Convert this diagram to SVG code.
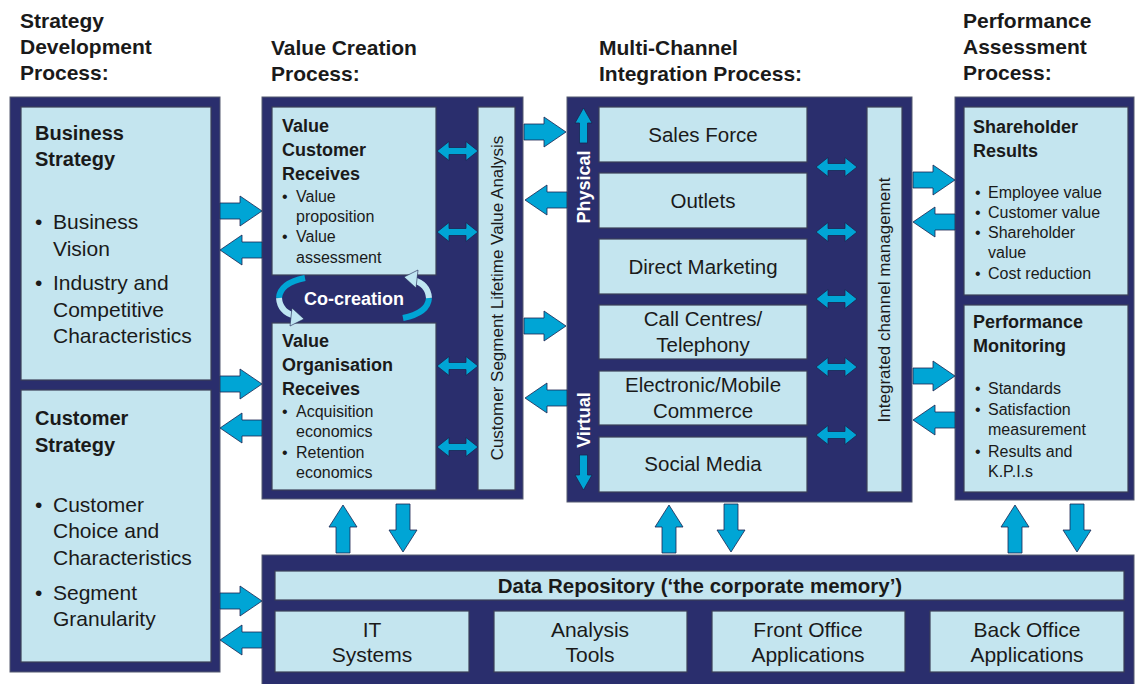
<svg xmlns="http://www.w3.org/2000/svg" width="1135" height="684" viewBox="0 0 1135 684">
<style>
.outer{fill:#2a2e6d;stroke:#555a70;stroke-width:1}
.inner{fill:#c4e5ef;stroke:#3b3f58;stroke-width:1.2}
.t{font-family:"Liberation Sans",Arial,sans-serif;fill:#1a1a1a}
.title{font-size:21px;font-weight:bold}
.h20{font-size:20px;font-weight:bold}
.b21{font-size:21px}
.h18{font-size:18px;font-weight:bold}
.b16{font-size:16px}
.c20{font-size:20.5px;text-anchor:middle}
.c21{font-size:21px;text-anchor:middle}
.rot{font-size:17px;text-anchor:middle}
.wh{font-family:"Liberation Sans",Arial,sans-serif;fill:#ffffff;font-weight:bold;text-anchor:middle}
.arr{fill:#00a5d5;stroke:#1c2450;stroke-width:0.8}
.arcC{fill:none;stroke:#00a5d5;stroke-width:6}
.arcL{fill:none;stroke:#bfe6f2;stroke-width:6}
</style>
<defs>
<path id="ar" d="M0,-8 H20 V-15 L42,0 L20,15 V8 H0 Z"/>
<path id="arU" d="M0,0 L14,22 H7 V48 H-7 V22 H-14 Z"/>
<path id="da" d="M0,0 L12,-9.5 V-3.5 H29 V-9.5 L41,0 L29,9.5 V3.5 H12 V9.5 Z"/>
<path id="su" d="M0,0 L8.5,15 H4 V35 H-4 V15 H-8.5 Z"/>
</defs>
<rect width="1135" height="684" fill="#ffffff"/>

<g id="titles" class="t title">
<text x="20" y="28">Strategy</text>
<text x="20" y="54">Development</text>
<text x="20" y="80">Process:</text>
<text x="271" y="55">Value Creation</text>
<text x="271" y="81">Process:</text>
<text x="599" y="55">Multi-Channel</text>
<text x="599" y="81">Integration Process:</text>
<text x="963" y="28">Performance</text>
<text x="963" y="54">Assessment</text>
<text x="963" y="80">Process:</text>
</g>

<g id="strategy-panel">
<rect class="outer" x="10" y="97" width="210" height="575"/>
</g>
<g id="business-strategy">
<rect class="inner" x="21" y="107" width="190" height="273"/>
<text class="t h20" x="35" y="140">Business</text>
<text class="t h20" x="35" y="166">Strategy</text>
<text class="t b21" x="35" y="229">•</text><text class="t b21" x="53" y="229">Business</text>
<text class="t b21" x="53" y="256">Vision</text>
<text class="t b21" x="35" y="290">•</text><text class="t b21" x="53" y="290">Industry and</text>
<text class="t b21" x="53" y="317">Competitive</text>
<text class="t b21" x="53" y="343">Characteristics</text>
</g>
<g id="customer-strategy">
<rect class="inner" x="21" y="390" width="190" height="272"/>
<text class="t h20" x="35" y="425">Customer</text>
<text class="t h20" x="35" y="452">Strategy</text>
<text class="t b21" x="35" y="512">•</text><text class="t b21" x="53" y="512">Customer</text>
<text class="t b21" x="53" y="538">Choice and</text>
<text class="t b21" x="53" y="565">Characteristics</text>
<text class="t b21" x="35" y="600">•</text><text class="t b21" x="53" y="600">Segment</text>
<text class="t b21" x="53" y="626">Granularity</text>
</g>

<g id="value-panel">
<rect class="outer" x="262" y="97" width="261" height="402"/>
</g>
<g id="value-customer">
<rect class="inner" x="272" y="107" width="164" height="168"/>
<text class="t h18" x="282" y="132">Value</text>
<text class="t h18" x="282" y="156">Customer</text>
<text class="t h18" x="282" y="180">Receives</text>
<text class="t b16" x="282" y="202">•</text><text class="t b16" x="296" y="202">Value</text>
<text class="t b16" x="296" y="222">proposition</text>
<text class="t b16" x="282" y="242">•</text><text class="t b16" x="296" y="242">Value</text>
<text class="t b16" x="296" y="263">assessment</text>
</g>
<g id="value-organisation">
<rect class="inner" x="272" y="323" width="164" height="167"/>
<text class="t h18" x="282" y="347">Value</text>
<text class="t h18" x="282" y="371">Organisation</text>
<text class="t h18" x="282" y="395">Receives</text>
<text class="t b16" x="282" y="417">•</text><text class="t b16" x="296" y="417">Acquisition</text>
<text class="t b16" x="296" y="437">economics</text>
<text class="t b16" x="282" y="458">•</text><text class="t b16" x="296" y="458">Retention</text>
<text class="t b16" x="296" y="478">economics</text>
</g>
<g id="cslva">
<rect class="inner" x="478" y="107" width="37" height="383"/>
<text class="t rot" transform="translate(503,298) rotate(-90)">Customer Segment Lifetime Value Analysis</text>
</g>
<g id="co-creation">
<path class="arcC" d="M305,278 Q280,283 279,298"/>
<path class="arcL" d="M279,298 Q280,312 295,316"/>
<polygon points="304,319 292,308 290,326" fill="#bfe6f2" stroke="#1c2450" stroke-width="0.6"/>
<path class="arcC" d="M403,318 Q428,313 429,298"/>
<path class="arcL" d="M429,298 Q428,284 413,280"/>
<polygon points="404,277 416,288 418,270" fill="#bfe6f2" stroke="#1c2450" stroke-width="0.6"/>
<text class="wh" x="354" y="305" font-size="18">Co-creation</text>
</g>

<g id="multichannel-panel">
<rect class="outer" x="567" y="97" width="345" height="405"/>
<text class="wh" font-size="18" transform="translate(590,187) rotate(-90)">Physical</text>
<text class="wh" font-size="18" transform="translate(590,420) rotate(-90)">Virtual</text>
<use href="#su" class="arr" transform="translate(583.5,108)"/>
<use href="#su" class="arr" transform="translate(583.5,490) rotate(180)"/>
</g>
<g id="sales-force"><rect class="inner" x="599" y="107" width="208" height="55"/><text class="t c20" x="703" y="142">Sales Force</text></g>
<g id="outlets"><rect class="inner" x="599" y="173" width="208" height="55"/><text class="t c20" x="703" y="208">Outlets</text></g>
<g id="direct-marketing"><rect class="inner" x="599" y="239" width="208" height="55"/><text class="t c20" x="703" y="274">Direct Marketing</text></g>
<g id="call-centres"><rect class="inner" x="599" y="305" width="208" height="54"/><text class="t c20" x="703" y="326">Call Centres/</text><text class="t c20" x="703" y="352">Telephony</text></g>
<g id="electronic"><rect class="inner" x="599" y="371" width="208" height="54"/><text class="t c20" x="703" y="392">Electronic/Mobile</text><text class="t c20" x="703" y="418">Commerce</text></g>
<g id="social-media"><rect class="inner" x="599" y="437" width="208" height="55"/><text class="t c20" x="703" y="471">Social Media</text></g>
<g id="icm">
<rect class="inner" x="867" y="107" width="35" height="385"/>
<text class="t rot" transform="translate(890,300) rotate(-90)">Integrated channel management</text>
</g>

<g id="performance-panel">
<rect class="outer" x="955" y="97" width="179" height="403"/>
</g>
<g id="shareholder-results">
<rect class="inner" x="964" y="107" width="164" height="188"/>
<text class="t h18" x="973" y="133">Shareholder</text>
<text class="t h18" x="973" y="157">Results</text>
<text class="t b16" x="975" y="198">•</text><text class="t b16" x="988" y="198">Employee value</text>
<text class="t b16" x="975" y="218">•</text><text class="t b16" x="988" y="218">Customer value</text>
<text class="t b16" x="975" y="238">•</text><text class="t b16" x="988" y="238">Shareholder</text>
<text class="t b16" x="988" y="258">value</text>
<text class="t b16" x="975" y="279">•</text><text class="t b16" x="988" y="279">Cost reduction</text>
</g>
<g id="performance-monitoring">
<rect class="inner" x="964" y="305" width="164" height="187"/>
<text class="t h18" x="973" y="328">Performance</text>
<text class="t h18" x="973" y="352">Monitoring</text>
<text class="t b16" x="975" y="394">•</text><text class="t b16" x="988" y="394">Standards</text>
<text class="t b16" x="975" y="415">•</text><text class="t b16" x="988" y="415">Satisfaction</text>
<text class="t b16" x="988" y="435">measurement</text>
<text class="t b16" x="975" y="457">•</text><text class="t b16" x="988" y="457">Results and</text>
<text class="t b16" x="988" y="477">K.P.I.s</text>
</g>

<g id="data-panel">
<rect class="outer" x="262" y="555" width="872" height="130"/>
</g>
<g id="data-repository"><rect class="inner" x="275" y="571" width="849" height="29"/><text class="t" x="700" y="593" text-anchor="middle" font-size="20.5" font-weight="bold">Data Repository (‘the corporate memory’)</text></g>
<g id="it-systems"><rect class="inner" x="275" y="611" width="194" height="61"/><text class="t c21" x="372" y="637">IT</text><text class="t c21" x="372" y="662">Systems</text></g>
<g id="analysis-tools"><rect class="inner" x="494" y="611" width="193" height="61"/><text class="t c21" x="590" y="637">Analysis</text><text class="t c21" x="590" y="662">Tools</text></g>
<g id="front-office"><rect class="inner" x="712" y="611" width="193" height="61"/><text class="t c21" x="808" y="637">Front Office</text><text class="t c21" x="808" y="662">Applications</text></g>
<g id="back-office"><rect class="inner" x="930" y="611" width="194" height="61"/><text class="t c21" x="1027" y="637">Back Office</text><text class="t c21" x="1027" y="662">Applications</text></g>

<g id="connectors" class="arr">
<use href="#ar" transform="translate(220,211)"/>
<use href="#ar" transform="translate(262,250) rotate(180)"/>
<use href="#ar" transform="translate(220,384)"/>
<use href="#ar" transform="translate(262,428) rotate(180)"/>
<use href="#ar" transform="translate(220,601)"/>
<use href="#ar" transform="translate(262,640) rotate(180)"/>
<use href="#ar" transform="translate(524,132)"/>
<use href="#ar" transform="translate(567,200) rotate(180)"/>
<use href="#ar" transform="translate(524,326)"/>
<use href="#ar" transform="translate(567,398) rotate(180)"/>
<use href="#ar" transform="translate(913,180)"/>
<use href="#ar" transform="translate(955,222) rotate(180)"/>
<use href="#ar" transform="translate(913,376)"/>
<use href="#ar" transform="translate(955,420) rotate(180)"/>
<use href="#da" transform="translate(437,151)"/>
<use href="#da" transform="translate(437,232)"/>
<use href="#da" transform="translate(437,366)"/>
<use href="#da" transform="translate(437,447)"/>
<use href="#da" transform="translate(816,167)"/>
<use href="#da" transform="translate(816,232)"/>
<use href="#da" transform="translate(816,299)"/>
<use href="#da" transform="translate(816,367)"/>
<use href="#da" transform="translate(816,435)"/>
<use href="#arU" transform="translate(343,505)"/>
<use href="#arU" transform="translate(403,552) rotate(180)"/>
<use href="#arU" transform="translate(669,505)"/>
<use href="#arU" transform="translate(731,552) rotate(180)"/>
<use href="#arU" transform="translate(1015,505)"/>
<use href="#arU" transform="translate(1077,552) rotate(180)"/>
</g>
</svg>
